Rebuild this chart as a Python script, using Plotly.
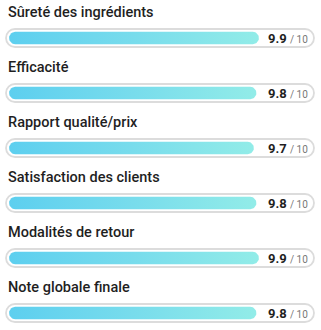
import numpy as np
import plotly.graph_objects as go

labels = ["Sûreté des ingrédients", "Efficacité", "Rapport qualité/prix",
          "Satisfaction des clients", "Modalités de retour", "Note globale finale"]
scores = [9.9, 9.8, 9.7, 9.8, 9.9, 9.8]
max_score = 10

W, H = 321, 330
px_per_x = 25.25
px_per_y = 55.0
x0_px = 9.0
x_range = [-x0_px / px_per_x, (W - x0_px) / px_per_x]
y_top = 38.0 / px_per_y
y_range = [y_top - H / px_per_y, y_top]

rows = [-i for i in range(len(labels))]

fig = go.Figure()

# track
fig.add_trace(go.Bar(
    y=rows, x=[(314 - 6) / px_per_x] * len(rows), base=(6 - x0_px) / px_per_x,
    orientation="h", width=18 / px_per_y,
    marker=dict(color="white", line=dict(color="#dcdcdc", width=1.8), cornerradius=9),
    hoverinfo="skip", showlegend=False,
))

# gradient fills with rounded ends
r_px = 6.2
rx = r_px / px_per_x
ry = r_px / px_per_y
th = np.linspace(np.pi / 2, 3 * np.pi / 2, 24)
for yv, v in zip(rows, scores):
    lx = rx + rx * np.cos(th)
    ly = yv + ry * np.sin(th)
    th2 = np.linspace(-np.pi / 2, np.pi / 2, 24)
    rxs = (v - rx) + rx * np.cos(th2)
    rys = yv + ry * np.sin(th2)
    xs = np.concatenate([lx, rxs, lx[:1]])
    ys = np.concatenate([ly, rys, ly[:1]])
    fig.add_trace(go.Scatter(
        x=xs, y=ys, mode="lines", fill="toself", line=dict(width=0),
        fillgradient=dict(type="horizontal",
                          colorscale=[[0, "#5dcfef"], [0.5, "#78dcec"], [1, "#92ece8"]]),
        hoverinfo="skip", showlegend=False,
    ))

for yv, lab, v in zip(rows, labels, scores):
    fig.add_annotation(x=(6 - x0_px) / px_per_x, y=yv + 26 / px_per_y, text=lab,
                       xanchor="left", yanchor="middle", showarrow=False,
                       font=dict(family="Roboto", size=14.5, color="#1f1f1f", weight=500))
    fig.add_annotation(x=(266 - x0_px) / px_per_x, y=yv, xanchor="left", yanchor="middle",
                       showarrow=False,
                       text=f"<b>{v:.1f}</b> <span style='font-size:10px;color:#777'>/ {max_score}</span>",
                       font=dict(family="Roboto", size=13, color="#1f1f1f"))

fig.update_layout(
    width=W, height=H, margin=dict(l=0, r=0, t=0, b=0),
    paper_bgcolor="white", plot_bgcolor="white",
    xaxis=dict(range=x_range, visible=False, fixedrange=True),
    yaxis=dict(range=y_range, visible=False, fixedrange=True),
    barmode="overlay", showlegend=False,
)
fig.write_html("out.html")
